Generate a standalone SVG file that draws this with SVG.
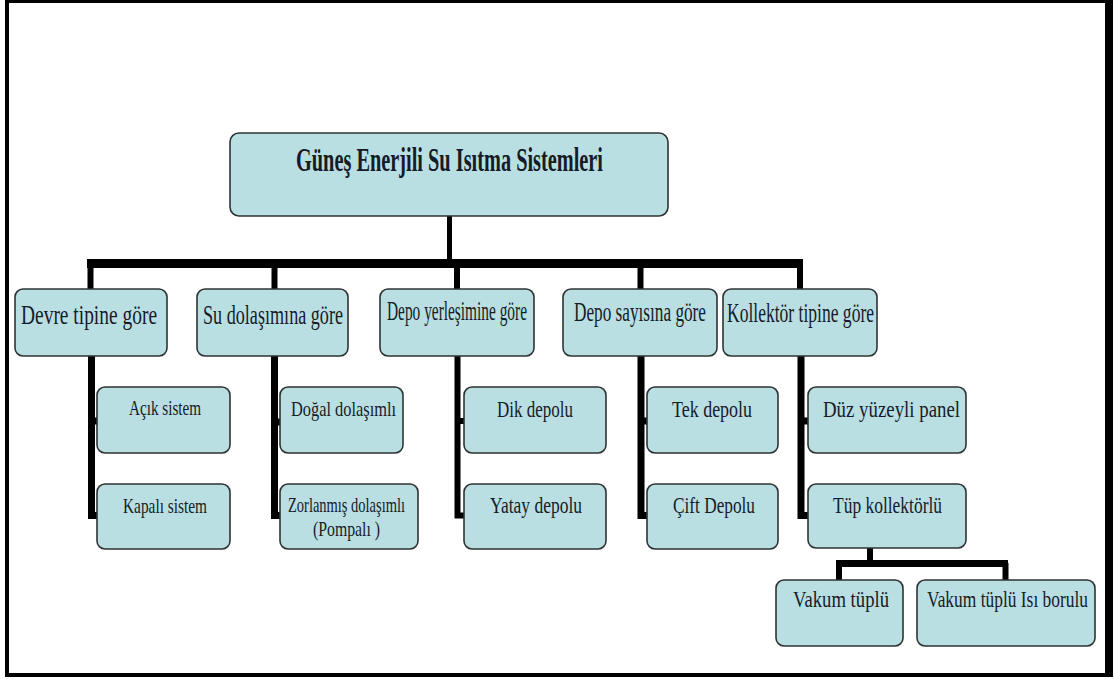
<svg xmlns="http://www.w3.org/2000/svg" width="1115" height="679" viewBox="0 0 1115 679">
<style>
.box{fill:#b9dfe3;stroke:#2e3333;stroke-width:1.6}
.t{font-family:"Liberation Serif","DejaVu Serif",serif;fill:#161b28;text-anchor:middle}
.root{font-weight:bold;font-size:33px}
.l1{font-size:28px}
.l2{font-size:22px}
.l2b{font-size:24px}
.c{fill:none;stroke:#000;stroke-linecap:butt;stroke-linejoin:miter}
</style>
<rect x="0" y="0" width="1115" height="679" fill="#fff"/>
<path d="M5 0H1113V677H5Z M9 3V673H1105V3Z" fill="#000" fill-rule="evenodd"/>
<g id="connectors">
  <line class="c" x1="449.5" y1="216" x2="449.5" y2="264" stroke-width="5"/>
  <line class="c" x1="87" y1="263.5" x2="803" y2="263.5" stroke-width="9"/>
  <line class="c" x1="90.5" y1="264" x2="90.5" y2="289" stroke-width="6"/>
  <line class="c" x1="274.5" y1="264" x2="274.5" y2="289" stroke-width="6"/>
  <line class="c" x1="457" y1="264" x2="457" y2="289" stroke-width="6"/>
  <line class="c" x1="640.5" y1="264" x2="640.5" y2="289" stroke-width="6"/>
  <line class="c" x1="800" y1="264" x2="800" y2="289" stroke-width="6"/>
  <path class="c" d="M91.5 356V515.5H97M91.5 421H97" stroke-width="7"/>
  <path class="c" d="M274.5 356V515.5H280M274.5 422H280" stroke-width="7"/>
  <path class="c" d="M457.5 356V515.5H464M457.5 421H464" stroke-width="6"/>
  <path class="c" d="M641 356V515.5H647M641 421H647" stroke-width="7"/>
  <path class="c" d="M801 356V515.5H808M801 421H808" stroke-width="7"/>
  <line class="c" x1="870" y1="548" x2="870" y2="564" stroke-width="6"/>
  <line class="c" x1="836" y1="563.5" x2="1008" y2="563.5" stroke-width="7"/>
  <line class="c" x1="839" y1="563" x2="839" y2="580" stroke-width="6"/>
  <line class="c" x1="1005.5" y1="563" x2="1005.5" y2="580" stroke-width="6"/>
</g>
<g id="root">
  <rect class="box" x="230" y="133" width="438" height="83" rx="9"/>
  <text class="t root" transform="translate(449.5 171) scale(0.68 1)" textLength="451.5" lengthAdjust="spacingAndGlyphs">Güneş Enerjili Su Isıtma Sistemleri</text>
</g>
<g id="devre">
  <rect class="box" x="15" y="289" width="152" height="67" rx="8"/>
  <text class="t l1" transform="translate(89 324) scale(0.68 1)" textLength="200" lengthAdjust="spacingAndGlyphs">Devre tipine göre</text>
</g>
<g id="su">
  <rect class="box" x="197" y="289" width="151" height="67" rx="8"/>
  <text class="t l1" transform="translate(273 324) scale(0.68 1)" textLength="205.9" lengthAdjust="spacingAndGlyphs">Su dolaşımına göre</text>
</g>
<g id="depoyer">
  <rect class="box" x="380" y="289" width="154" height="67" rx="8"/>
  <text class="t l1" font-size="25" transform="translate(457 320) scale(0.68 1)" textLength="205.9" lengthAdjust="spacingAndGlyphs">Depo yerleşimine göre</text>
</g>
<g id="deposay">
  <rect class="box" x="563" y="289" width="154" height="67" rx="8"/>
  <text class="t l1" font-size="27" transform="translate(640 321) scale(0.68 1)" textLength="194.1" lengthAdjust="spacingAndGlyphs">Depo sayısına göre</text>
</g>
<g id="kollektor">
  <rect class="box" x="723" y="289" width="154" height="67" rx="8"/>
  <text class="t l1" font-size="27" transform="translate(800.5 322) scale(0.68 1)" textLength="216.2" lengthAdjust="spacingAndGlyphs">Kollektör tipine göre</text>
</g>
<g id="acik">
  <rect class="box" x="97" y="387" width="133" height="66" rx="8"/>
  <text class="t l2" transform="translate(165 415) scale(0.68 1)" textLength="105.9" lengthAdjust="spacingAndGlyphs">Açık sistem</text>
</g>
<g id="kapali">
  <rect class="box" x="97" y="484" width="133" height="65" rx="8"/>
  <text class="t l2" transform="translate(165 513) scale(0.68 1)" textLength="123.5" lengthAdjust="spacingAndGlyphs">Kapalı sistem</text>
</g>
<g id="dogal">
  <rect class="box" x="280" y="387" width="123" height="66" rx="8"/>
  <text class="t l2" transform="translate(343.5 416) scale(0.68 1)" textLength="154.4" lengthAdjust="spacingAndGlyphs">Doğal dolaşımlı</text>
</g>
<g id="zorlanmis">
  <rect class="box" x="280" y="484" width="138" height="65" rx="8"/>
  <text class="t" font-size="21" transform="translate(346.5 512) scale(0.68 1)" textLength="172.1" lengthAdjust="spacingAndGlyphs">Zorlanmış dolaşımlı</text>
  <text class="t" font-size="21" transform="translate(346.5 536) scale(0.68 1)" textLength="98.5" lengthAdjust="spacingAndGlyphs">(Pompalı )</text>
</g>
<g id="dik">
  <rect class="box" x="464" y="387" width="142" height="66" rx="8"/>
  <text class="t l2b" transform="translate(535 417) scale(0.68 1)" textLength="111.8" lengthAdjust="spacingAndGlyphs">Dik depolu</text>
</g>
<g id="yatay">
  <rect class="box" x="464" y="484" width="142" height="65" rx="8"/>
  <text class="t l2b" transform="translate(536 513) scale(0.68 1)" textLength="135.3" lengthAdjust="spacingAndGlyphs">Yatay depolu</text>
</g>
<g id="tek">
  <rect class="box" x="647" y="387" width="131" height="66" rx="8"/>
  <text class="t l2b" transform="translate(712 417) scale(0.68 1)" textLength="117.6" lengthAdjust="spacingAndGlyphs">Tek depolu</text>
</g>
<g id="cift">
  <rect class="box" x="647" y="484" width="131" height="65" rx="8"/>
  <text class="t l2b" transform="translate(714 513) scale(0.68 1)" textLength="120.6" lengthAdjust="spacingAndGlyphs">Çift Depolu</text>
</g>
<g id="duz">
  <rect class="box" x="808" y="387" width="158" height="66" rx="8"/>
  <text class="t l2b" transform="translate(891.5 417) scale(0.68 1)" textLength="201.5" lengthAdjust="spacingAndGlyphs">Düz yüzeyli panel</text>
</g>
<g id="tup">
  <rect class="box" x="808" y="484" width="158" height="64" rx="8"/>
  <text class="t l2b" transform="translate(887.5 513) scale(0.68 1)" textLength="160.3" lengthAdjust="spacingAndGlyphs">Tüp kollektörlü</text>
</g>
<g id="vakum">
  <rect class="box" x="776" y="580" width="127" height="66" rx="8"/>
  <text class="t l2b" transform="translate(841 607) scale(0.68 1)" textLength="141.2" lengthAdjust="spacingAndGlyphs">Vakum tüplü</text>
</g>
<g id="vakumisi">
  <rect class="box" x="917" y="580" width="178" height="66" rx="8"/>
  <text class="t l2b" transform="translate(1007.5 607) scale(0.68 1)" textLength="236.8" lengthAdjust="spacingAndGlyphs">Vakum tüplü Isı borulu</text>
</g>
</svg>
